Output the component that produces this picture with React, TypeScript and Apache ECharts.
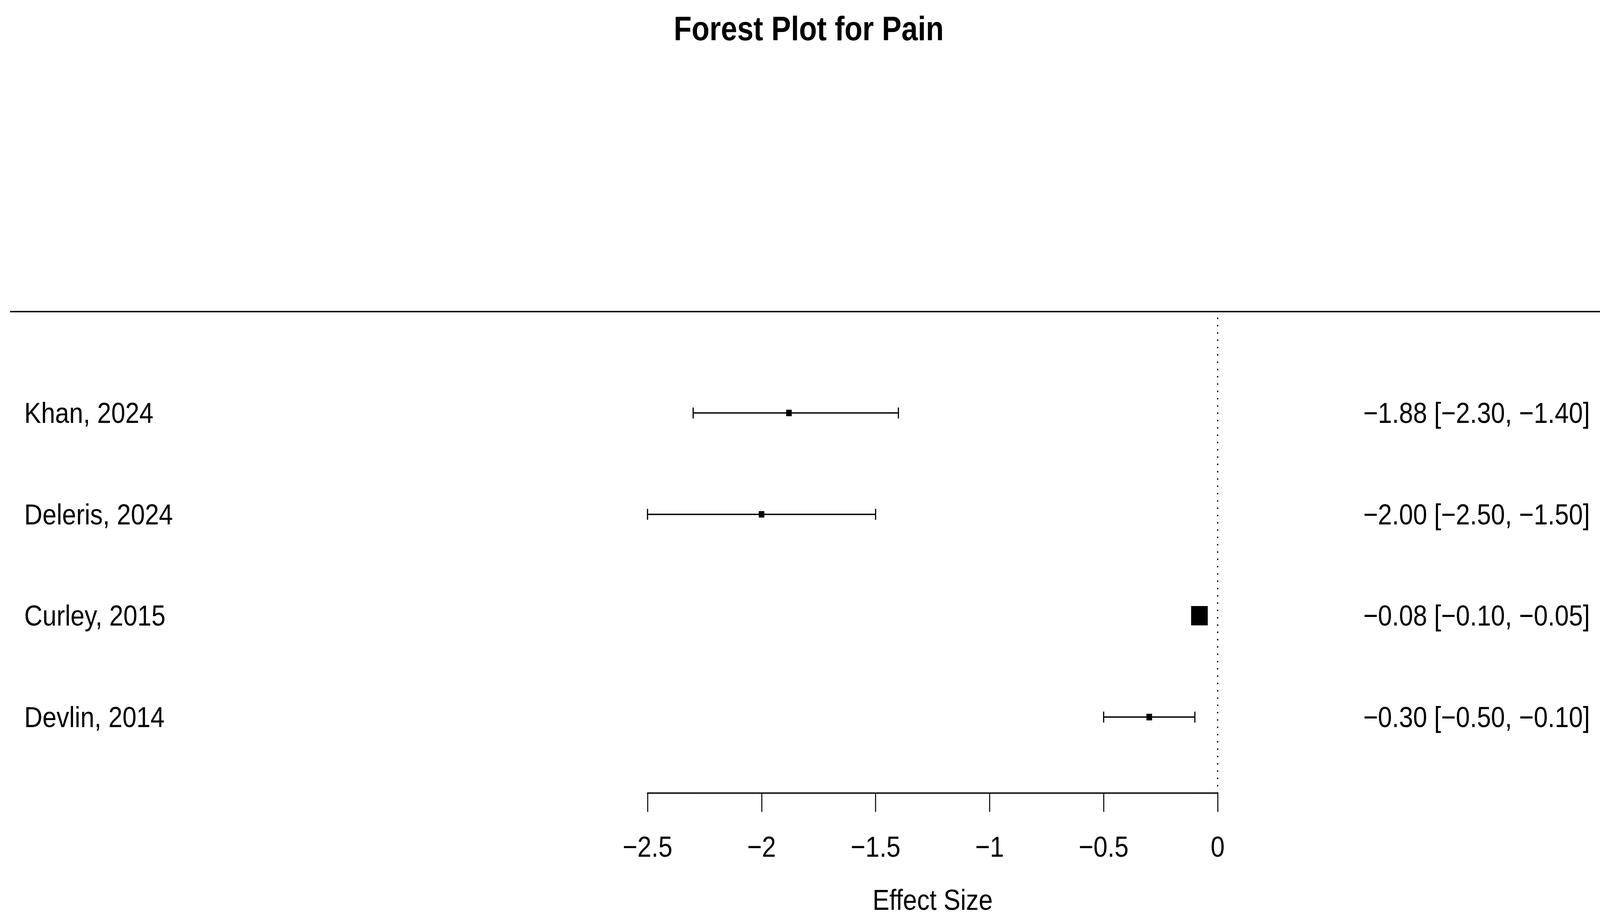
import React, { useEffect, useRef, useState } from "react";
import * as echarts from "echarts";

const studies = ["Khan, 2024", "Deleris, 2024", "Curley, 2015", "Devlin, 2014"];
const estimates = [-1.88, -2.0, -0.08, -0.3];
const ciLower = [-2.3, -2.5, -0.1, -0.5];
const ciUpper = [-1.4, -1.5, -0.05, -0.1];
const rows = [4, 3, 2, 1];
const xMin = -2.5;
const xMax = 0;
const xStep = 0.5;
const yMin = 0.25;
const yMax = 5;
const titleText = "Forest Plot for Pain";
const xLabel = "Effect Size";

const W = 4754;
const H = 2356;
const FONT = "'Liberation Sans', Arial, Helvetica, sans-serif";

const fmt = (v: number) => (v < 0 ? "\u2212" : "") + Math.abs(v).toFixed(2);
const fmtTick = (v: number) => {
  const r = Math.round(v * 10) / 10;
  return (r < 0 ? "\u2212" : "") + String(Math.abs(r));
};

// metafor-style square sizes: linear in inverse-variance weights, scaled 0.5..1.5
const weights = ciLower.map((lo, i) => {
  const se = (ciUpper[i] - lo) / (2 * 1.96);
  return 1 / (se * se);
});
const wMin = Math.min(...weights);
const wMax = Math.max(...weights);
const psize = weights.map((w) => (w - wMin) / (wMax - wMin) + 0.5);

export default function App() {
  const ref = useRef<HTMLDivElement>(null);
  const [scale, setScale] = useState<[number, number]>([
    window.innerWidth / W,
    window.innerHeight / H,
  ]);
  useEffect(() => {
    const onResize = () => setScale([window.innerWidth / W, window.innerHeight / H]);
    window.addEventListener("resize", onResize);
    return () => window.removeEventListener("resize", onResize);
  }, []);
  useEffect(() => {
    if (!ref.current) return;
    const chart = echarts.init(ref.current, undefined, { renderer: "svg" });
    const lw = 3.5;
    const option: any = {
      animation: false,
      backgroundColor: "#ffffff",
      textStyle: { fontFamily: FONT, color: "#000" },
      title: {
        text: titleText,
        left: 2398,
        textAlign: "center",
        top: 24,
        textStyle: { fontFamily: FONT, fontSize: 87, fontWeight: "bold", color: "#000" },
      },
      grid: [
        { left: 1924, right: 1136, top: 798, bottom: 325 },
        { left: 30, right: 0, top: 798, bottom: 325 },
      ],
      xAxis: [
        {
          type: "value",
          gridIndex: 0,
          min: xMin,
          max: xMax,
          interval: xStep,
          splitLine: { show: false },
          axisLine: { show: true, onZero: false, lineStyle: { color: "#000", width: lw } },
          axisTick: { show: true, inside: false, length: 48, lineStyle: { color: "#000", width: 3 } },
          axisLabel: {
            fontFamily: FONT,
            fontSize: 75,
            color: "#000",
            margin: 100,
            formatter: (v: number) => fmtTick(v),
          },
          name: xLabel,
          nameLocation: "middle",
          nameGap: 236,
          nameTextStyle: { fontFamily: FONT, fontSize: 75, color: "#000" },
        },
        { type: "value", gridIndex: 1, min: 0, max: 1, show: false },
      ],
      yAxis: [
        { type: "value", gridIndex: 0, min: yMin, max: yMax, show: false },
        { type: "value", gridIndex: 1, min: yMin, max: yMax, show: false },
      ],
      series: [
        {
          type: "custom",
          xAxisIndex: 0,
          yAxisIndex: 0,
          clip: false,
          z: 2,
          data: rows.map((r, i) => [ciLower[i], ciUpper[i], r]),
          renderItem: (params: any, api: any) => {
            const a = api.coord([api.value(0), api.value(2)]);
            const b = api.coord([api.value(1), api.value(2)]);
            const h = 14;
            const style = { stroke: "#000", lineWidth: lw, fill: "none" };
            return {
              type: "group",
              children: [
                { type: "line", shape: { x1: a[0], y1: a[1], x2: b[0], y2: b[1] }, style },
                { type: "line", shape: { x1: a[0], y1: a[1] - h, x2: a[0], y2: a[1] + h }, style },
                { type: "line", shape: { x1: b[0], y1: b[1] - h, x2: b[0], y2: b[1] + h }, style },
              ],
            };
          },
        },
        {
          type: "scatter",
          xAxisIndex: 0,
          yAxisIndex: 0,
          z: 3,
          symbol: "rect",
          symbolSize: (_v: any, p: any) => psize[p.dataIndex] * 33,
          itemStyle: { color: "#000", opacity: 1 },
          data: rows.map((r, i) => [estimates[i], r]),
          markLine: {
            silent: true,
            symbol: "none",
            label: { show: false },
            lineStyle: { color: "#000", width: 4, type: [0.5, 18.2], cap: "round", opacity: 1 },
            data: [{ xAxis: 0 }],
          },
        },
        {
          type: "line",
          xAxisIndex: 1,
          yAxisIndex: 1,
          clip: false,
          symbol: "none",
          lineStyle: { color: "#000", width: lw, opacity: 1 },
          data: [
            [0, yMax],
            [1, yMax],
          ],
        },
        {
          type: "scatter",
          xAxisIndex: 1,
          yAxisIndex: 1,
          symbolSize: 0,
          clip: false,
          itemStyle: { opacity: 1 },
          data: rows.map((r, i) => ({ value: [0, r], name: studies[i] })),
          label: {
            show: true,
            position: "right",
            distance: 42,
            fontFamily: FONT,
            fontSize: 75,
            color: "#000",
            opacity: 1,
            formatter: (p: any) => p.name,
          },
        },
        {
          type: "scatter",
          xAxisIndex: 1,
          yAxisIndex: 1,
          symbolSize: 0,
          clip: false,
          itemStyle: { opacity: 1 },
          data: rows.map((r, i) => ({
            value: [1, r],
            name: `${fmt(estimates[i])} [${fmt(ciLower[i])}, ${fmt(ciUpper[i])}]`,
          })),
          label: {
            show: true,
            position: "left",
            distance: 30,
            fontFamily: FONT,
            fontSize: 75,
            color: "#000",
            opacity: 1,
            formatter: (p: any) => p.name,
          },
        },
      ],
    };
    chart.setOption(option);
    return () => chart.dispose();
  }, []);
  return (
    <div
      style={{
        position: "fixed",
        left: 0,
        top: 0,
        width: "100vw",
        height: "100vh",
        overflow: "hidden",
        background: "#fff",
      }}
    >
      <div
        ref={ref}
        style={{
          width: W,
          height: H,
          transformOrigin: "0 0",
          transform: `scale(${scale[0]}, ${scale[1]})`,
        }}
      />
    </div>
  );
}
